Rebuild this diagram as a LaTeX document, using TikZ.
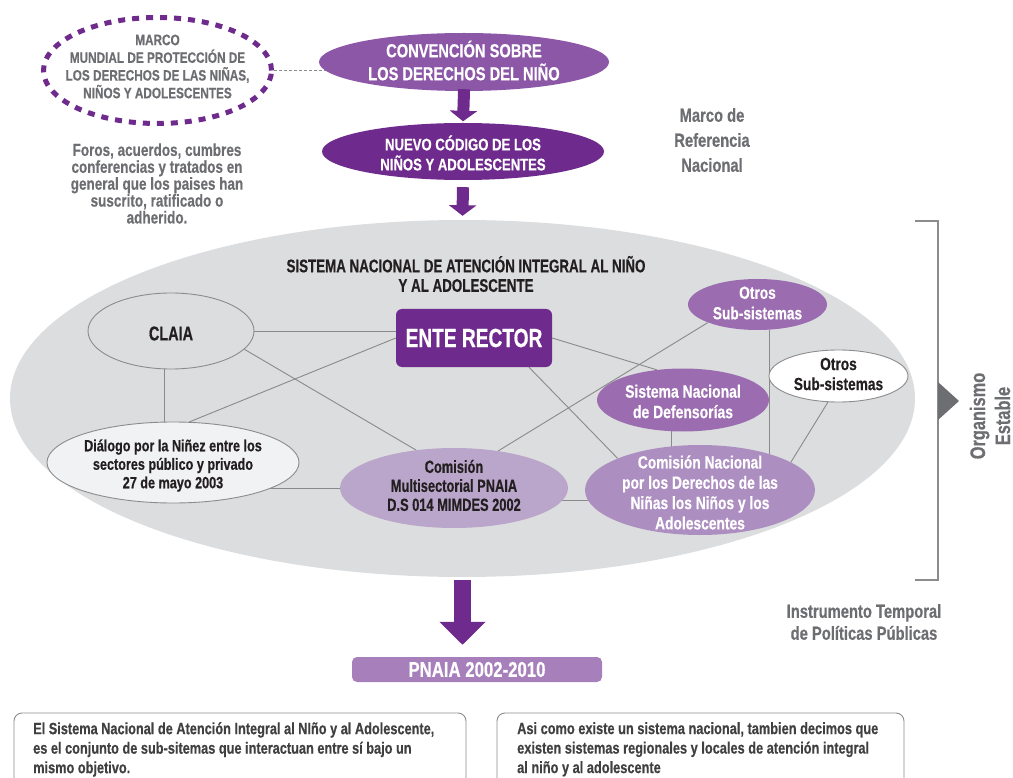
\documentclass[tikz,border=0pt]{standalone}
\usepackage{fontspec}
\setmainfont{Liberation Sans}[FakeStretch=0.78, BoldFeatures={FakeBold=0.5}]
\newfontfamily\condfont{Liberation Sans}[FakeStretch=0.73, BoldFeatures={FakeBold=0.5}]
\usetikzlibrary{shapes.geometric,arrows.meta,calc}
\pgfdeclarelayer{bgA}
\pgfdeclarelayer{bgB}
\pgfsetlayers{bgA,bgB,main}
\definecolor{dpurple}{HTML}{6E2A8C}
\definecolor{mpurple}{HTML}{8C57A6}
\definecolor{lpurpleA}{HTML}{9B6CB0}
\definecolor{lpurpleB}{HTML}{AD8EC1}
\definecolor{lpurpleC}{HTML}{BAA6CA}
\definecolor{pnaiacol}{HTML}{A67FBB}
\definecolor{sysgray}{HTML}{DCDDDE}
\definecolor{olgray}{HTML}{8C8C8C}
\definecolor{linkgray}{HTML}{8A8A8A}
\definecolor{tgray}{HTML}{6D6E71}
\definecolor{darktxt}{HTML}{231F20}
\definecolor{boxtxt}{HTML}{404041}
\definecolor{palegray}{HTML}{F1F2F4}
\newcommand{\fs}[2]{\fontsize{#1}{#2}\selectfont}
\begin{document}
\begin{tikzpicture}[x=1pt,y=-1pt,
  txt/.style={inner sep=0pt, align=center},
  ell/.style={ellipse, inner sep=0pt},
  link/.style={draw=linkgray, line width=0.9pt},
  fatarrow/.style={draw=dpurple, line width=12pt, -{Triangle[width=27pt,length=10.5pt]}},
  hugearrow/.style={draw=dpurple, line width=17pt, -{Triangle[width=45pt,length=23pt]}},
  outlined/.style={draw=olgray, line width=0.9pt}]
\useasboundingbox (0,0) rectangle (1013,778);
\clip (0,0) rectangle (1013,778);

% big system ellipse
\begin{pgfonlayer}{bgA}
\node[ell, fill=sysgray, minimum width=905pt, minimum height=357pt] (sys) at (462.5,398.5) {};
\end{pgfonlayer}

% top part
\node[ell, draw=dpurple, line width=5pt, dash pattern=on 7pt off 7pt, minimum width=228pt, minimum height=106pt] (marco) at (157.5,70.5) {};
\node[txt, text=tgray, font=\bfseries\fs{15.1}{17.7}] (marcot) at (157.5,66.5) {MARCO\\MUNDIAL DE PROTECCIÓN DE\\LOS DERECHOS DE LAS NIÑAS,\\NIÑOS Y ADOLESCENTES};
\node[ell, fill=mpurple, minimum width=290pt, minimum height=58pt] (conv) at (464,62) {};
\node[txt, text=white, font=\bfseries\fs{18.8}{23}] (convt) at (464,60.5) {CONVENCIÓN SOBRE\\LOS DERECHOS DEL NIÑO};
\node[ell, fill=dpurple, minimum width=282pt, minimum height=57pt] (nuevo) at (463,151.5) {};
\node[txt, text=white, font=\bfseries\fs{16.8}{20}] (nuevot) at (463,153) {NUEVO CÓDIGO DE LOS\\NIÑOS Y ADOLESCENTES};
\node[txt, text=tgray, font=\bfseries\fs{17.3}{16.9}] (foros) at (157,183.5) {Foros, acuerdos, cumbres\\conferencias y tratados en\\general que los paises han\\suscrito, ratificado o\\adherido.};
\node[txt, text=tgray, font=\bfseries\fs{18.9}{25}] (mref) at (712,140) {Marco de\\Referencia\\Nacional};

\begin{pgfonlayer}{bgB}
\draw[draw=olgray, line width=0.8pt, dash pattern=on 3pt off 2pt] (marco.east) -- (marco.east -| conv.center);
\end{pgfonlayer}
\draw[fatarrow, shorten <=-2pt, shorten >=1.5pt] (conv.south) -- (nuevo.north);
\draw[fatarrow, shorten <=7pt, shorten >=4pt] (nuevo.south) -- (sys.north);

% system content
\node[txt, text=darktxt, font=\condfont\bfseries\fs{18.3}{19.5}] (title) at (466,274) {SISTEMA NACIONAL DE ATENCIÓN INTEGRAL AL NIÑO\\Y AL ADOLESCENTE};
\node[ell, fill=sysgray, outlined, minimum width=166pt, minimum height=76pt] (claia) at (171,331) {};
\node[txt, text=darktxt, font=\condfont\bfseries\fs{19.8}{22}] (claiat) at (171,333.5) {CLAIA};
\node[rectangle, rounded corners=6pt, fill=dpurple, text=white, inner sep=0pt, minimum width=156pt, minimum height=58pt, font=\condfont\bfseries\fs{26.2}{28}] (ente) at (474,338) {ENTE RECTOR};
\node[ell, fill=lpurpleA, minimum width=139pt, minimum height=51pt] (otrosp) at (757.5,304.5) {};
\node[txt, text=white, font=\bfseries\fs{17.6}{20.5}] (otrospt) at (757.5,303) {Otros\\Sub-sistemas};
\node[ell, fill=white, outlined, minimum width=139pt, minimum height=52pt] (otrosw) at (838.5,376) {};
\node[txt, text=darktxt, font=\bfseries\fs{17.6}{20}] (otroswt) at (838.5,374) {Otros\\Sub-sistemas};
\node[ell, fill=lpurpleA, minimum width=172pt, minimum height=63pt] (def) at (683,400) {};
\node[txt, text=white, font=\bfseries\fs{17.9}{20.5}] (deft) at (683,401.5) {Sistema Nacional\\de Defensorías};
\node[ell, fill=lpurpleB, minimum width=230pt, minimum height=90pt] (cn) at (700,490) {};
\node[txt, text=white, font=\bfseries\fs{17.7}{20.3}] (cnt) at (700,492.5) {Comisión Nacional\\por los Derechos de las\\Niñas los Niños y los\\Adolescentes};
\node[ell, fill=lpurpleC, minimum width=228pt, minimum height=80pt] (multi) at (454,488) {};
\node[txt, text=darktxt, font=\condfont\bfseries\fs{17.6}{19}] (multit) at (454,485.5) {Comisión\\Multisectorial PNAIA\\D.S 014 MIMDES 2002};
\node[ell, fill=palegray, outlined, minimum width=252pt, minimum height=81pt] (dialogo) at (173,462.5) {};
\node[txt, text=darktxt, font=\bfseries\fs{16.2}{18.5}] (dialogot) at (173,465.5) {Diálogo por la Niñez entre los\\sectores público y privado\\27 de mayo 2003};

\begin{pgfonlayer}{bgB}
\draw[link] (claia.east) -- (claia.east -| ente.center);
\draw[link] (claia.-100) -- (claia.-100 |- dialogo.center);
\draw[link] (claia.-14) -- (multi.135);
\draw[link] (ente.west) -- (dialogo.68);
\draw[link] (ente.east) -- (def.131);
\draw[link] (ente.-28) -- (cn.159);
\draw[link] (multi.40) -- (otrosp.-160);
\draw[link] (def.-110) -- (def.-110 |- cn.center);
\draw[link] (otrosp.-65) -- (otrosp.-65 |- cn.center);
\draw[link] (otrosw.-112) -- (cn.17);
\draw[link] (multi.center) -- (multi.center -| dialogo.center);
\draw[link] ([yshift=-12pt]multi.center) -- ([yshift=-12pt]multi.center -| cn.center);
\end{pgfonlayer}

% bottom
\node[rectangle, rounded corners=5pt, fill=pnaiacol, text=white, inner sep=0pt, minimum width=250pt, minimum height=25pt, font=\bfseries\fs{21.5}{23}] (pnaia) at (477,669.5) {PNAIA 2002-2010};
\draw[hugearrow, shorten <=3pt, shorten >=12pt] (sys.south) -- (sys.south |- pnaia.north);

\node[rectangle, rounded corners=8pt, outlined, minimum width=452pt, minimum height=90pt] (boxl) at (240,758) {};
\node[txt, align=left, anchor=north west, text=boxtxt, font=\bfseries\fs{16.35}{19.5}] (boxlt) at (33,722) {El Sistema Nacional de Atención Integral al NIño y al Adolescente,\\es el conjunto de sub-sitemas que interactuan entre sí bajo un\\mismo objetivo.};
\node[rectangle, rounded corners=8pt, outlined, minimum width=407pt, minimum height=90pt] (boxr) at (700.5,758) {};
\node[txt, align=left, anchor=north west, text=boxtxt, font=\bfseries\fs{16.4}{19.5}] (boxrt) at (517,722) {Asi como existe un sistema nacional, tambien decimos que\\existen sistemas regionales y locales de atención integral\\al niño y al adolescente};

% right side
\draw[draw=olgray, line width=1.3pt] (915,221) -- (938,221) -- (938,580) -- (915,580);
\fill[tgray] (938,382) -- (959,401) -- (938,420) -- cycle;
\node[txt, rotate=90, text=tgray, font=\bfseries\fs{21}{25}] (org) at (990,416) {Organismo\\Estable};
\node[txt, text=tgray, font=\bfseries\fs{18.9}{22}] (instr) at (864,622) {Instrumento Temporal\\de Políticas Públicas};
\end{tikzpicture}
\end{document}
